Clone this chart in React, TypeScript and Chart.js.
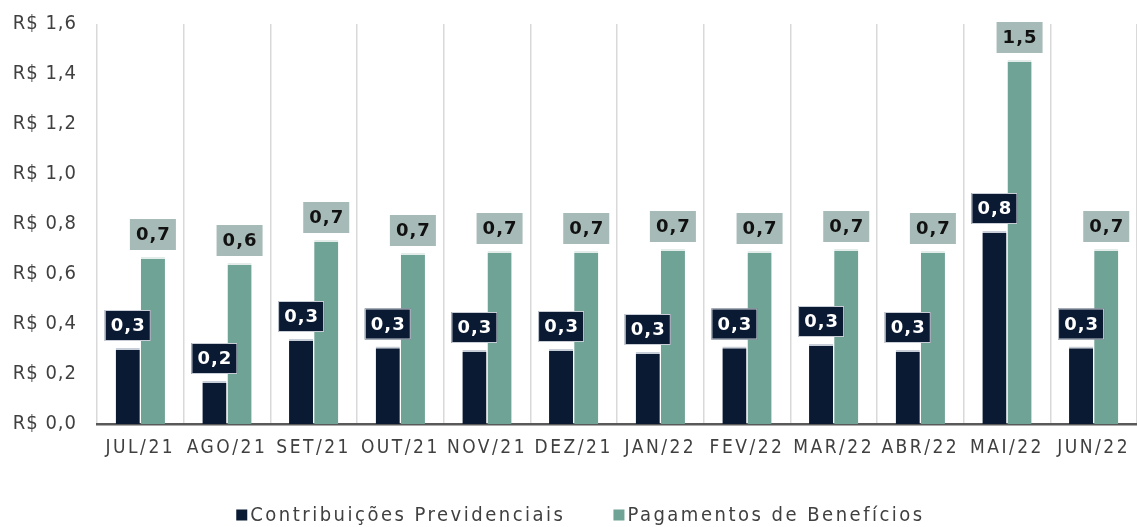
import React, { useEffect, useRef } from "react";
import { Chart, registerables } from "chart.js";

Chart.register(...registerables);

const categories = ["JUL/21", "AGO/21", "SET/21", "OUT/21", "NOV/21", "DEZ/21", "JAN/22", "FEV/22", "MAR/22", "ABR/22", "MAI/22", "JUN/22"];
const contribuicoes = [0.304, 0.172, 0.34, 0.31, 0.296, 0.3, 0.288, 0.31, 0.32, 0.296, 0.772, 0.31];
const pagamentos = [0.668, 0.644, 0.736, 0.684, 0.692, 0.692, 0.7, 0.692, 0.7, 0.692, 1.456, 0.7];
const seriesNames = ["Contribuições Previdenciais", "Pagamentos de Benefícios"];

const DARK = "#0a1a33";
const GREEN = "#6fa396";
const GREEN_LABEL = "#a6bbb7";
const FONT = "'DejaVu Sans Condensed', 'DejaVu Sans', sans-serif";
const BOLD_FONT = "'DejaVu Sans', sans-serif";

const fmt = (v: number) => v.toFixed(1).replace(".", ",");

const spacingPlugin = {
  id: "spacing",
  beforeDraw(chart: any) {
    chart.ctx.letterSpacing = "1px";
    const xs = chart.scales.x;
    if (xs && !xs.__patched) {
      const orig = xs.drawLabels.bind(xs);
      xs.drawLabels = (area: any) => {
        const ctx = chart.ctx;
        ctx.save();
        ctx.letterSpacing = "2.5px";
        orig(area);
        ctx.restore();
      };
      xs.__patched = true;
    }
  },
};

const labelPlugin = {
  id: "boxLabels",
  afterDatasetsDraw(chart: any) {
    const ctx = chart.ctx;
    ctx.save();
    ctx.letterSpacing = "1px";
    chart.data.datasets.forEach((ds: any, di: number) => {
      const meta = chart.getDatasetMeta(di);
      meta.data.forEach((bar: any, i: number) => {
        const v = ds.data[i] as number;
        const w = 46;
        const h = 31;
        const x = bar.x - w / 2;
        const y = bar.y - 7 - h;
        ctx.fillStyle = di === 0 ? DARK : GREEN_LABEL;
        ctx.fillRect(x, y, w, h);
        if (di === 0) {
          ctx.strokeStyle = "#c9ced6";
          ctx.lineWidth = 1;
          ctx.strokeRect(x + 0.5, y + 0.5, w - 1, h - 1);
        }
        ctx.fillStyle = di === 0 ? "#ffffff" : "#111111";
        ctx.font = `bold 18px ${BOLD_FONT}`;
        ctx.textAlign = "center";
        ctx.textBaseline = "middle";
        ctx.fillText(fmt(v), bar.x + 0.5, y + h / 2 + 1);
      });
    });
    ctx.restore();
  },
};

const legendPlugin = {
  id: "customLegend",
  afterDraw(chart: any) {
    const ctx = chart.ctx;
    ctx.save();
    ctx.letterSpacing = "2.5px";
    ctx.font = `20px ${FONT}`;
    ctx.textBaseline = "middle";
    ctx.textAlign = "left";
    const box = 11;
    const gap = 3;
    const between = 48;
    const widths = chart.data.datasets.map((ds: any) => ctx.measureText(ds.label).width);
    const total = widths.reduce((a: number, b: number) => a + b, 0) + 2 * (box + gap) + between;
    let x = chart.width / 2 + 12 - total / 2;
    const y = chart.height - 12;
    chart.data.datasets.forEach((ds: any, i: number) => {
      ctx.fillStyle = ds.backgroundColor;
      ctx.fillRect(x, y - box / 2, box, box);
      x += box + gap;
      ctx.fillStyle = "#404040";
      ctx.fillText(ds.label, x, y + 1);
      x += widths[i] + between;
    });
    ctx.restore();
  },
};

export default function App() {
  const ref = useRef<HTMLCanvasElement | null>(null);
  useEffect(() => {
    document.body.style.margin = "0";
    const chart = new Chart(ref.current as HTMLCanvasElement, {
      type: "bar",
      data: {
        labels: categories,
        datasets: [
          {
            label: seriesNames[0],
            data: contribuicoes,
            backgroundColor: DARK,
            borderColor: "#c8ced8",
            borderWidth: { top: 2, left: 0, right: 0, bottom: 0 },
            borderSkipped: "bottom",
            categoryPercentage: 0.58,
            barPercentage: 0.96,
          },
          {
            label: seriesNames[1],
            data: pagamentos,
            backgroundColor: GREEN,
            borderColor: "#e4ecea",
            borderWidth: { top: 2, left: 0, right: 0, bottom: 0 },
            borderSkipped: "bottom",
            categoryPercentage: 0.58,
            barPercentage: 0.96,
          },
        ],
      },
      options: {
        animation: false,
        responsive: false,
        maintainAspectRatio: false,
        layout: { padding: { top: 24, bottom: 63, left: 0, right: 0 } },
        plugins: {
          legend: { display: false },
          tooltip: { enabled: false },
        },
        scales: {
          x: {
            grid: {
              display: true,
              offset: true,
              color: "#d9d9d9",
              lineWidth: 1.5,
              drawTicks: false,
            },
            border: { display: true, color: "#595959", width: 2.5 },
            ticks: {
              color: "#404040",
              font: { family: FONT, size: 19 },
              padding: 13,
              maxRotation: 0,
              autoSkip: false,
            },
            afterFit(scale: any) {
              scale.height = 40;
            },
          },
          y: {
            min: 0,
            max: 1.6,
            grid: { display: false, drawTicks: false },
            border: { display: false },
            ticks: {
              stepSize: 0.2,
              color: "#404040",
              font: { family: FONT, size: 20 },
              padding: 20,
              callback: (v: any) => "R$ " + fmt(Number(v)),
            },
            afterFit(scale: any) {
              scale.width = 97;
              scale.paddingTop = 10;
              scale.paddingBottom = 10;
            },
          },
        },
      },
      plugins: [spacingPlugin, labelPlugin, legendPlugin],
    });
    return () => chart.destroy();
  }, []);
  return <canvas ref={ref} width={1137} height={527} style={{ display: "block" }} />;
}
